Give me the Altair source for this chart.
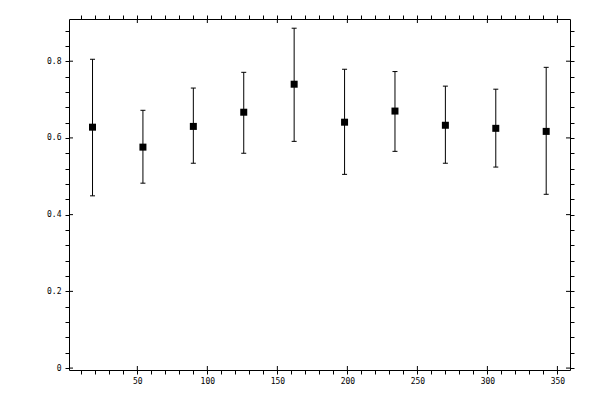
import altair as alt
import pandas as pd

# data
x_vals = [18, 54, 90, 126, 162, 198, 234, 270, 306, 342]
y_vals = [0.628, 0.576, 0.630, 0.667, 0.740, 0.641, 0.670, 0.633, 0.625, 0.617]
y_hi = [0.805, 0.672, 0.730, 0.771, 0.886, 0.779, 0.773, 0.735, 0.727, 0.784]
y_lo = [0.449, 0.482, 0.534, 0.560, 0.591, 0.505, 0.565, 0.534, 0.524, 0.453]

x_ticks = [10 * i for i in range(1, 36)]
x_major = [50, 100, 150, 200, 250, 300, 350]
y_ticks = [round(0.04 * i, 2) for i in range(0, 23)]
y_major = [0, 0.2, 0.4, 0.6, 0.8]

W, H = 501, 351
FONT = "DejaVu Sans Mono"

df = pd.DataFrame({"x": x_vals, "y": y_vals, "hi": y_hi, "lo": y_lo})
dfx = pd.DataFrame({"v": x_major})
dfy = pd.DataFrame({"v": y_major})

xs = alt.Scale(domain=[1.2, 359], nice=False, zero=False)
ys = alt.Scale(domain=[-0.005, 0.91], nice=False, zero=False)

ax_bottom = alt.Axis(orient="bottom", values=x_ticks, tickSize=4, title=None,
                     labelExpr="datum.value % 50 == 0 ? datum.label : ''",
                     format="d", labelFont=FONT, labelFontSize=8, labelPadding=3,
                     labelFlush=False, labelOverlap=False)
ax_left = alt.Axis(orient="left", values=y_ticks, tickSize=4, title=None,
                   labelExpr="abs(datum.value*5 - round(datum.value*5)) < 0.001 ? format(datum.value, '~g') : ''",
                   labelFont=FONT, labelFontSize=8, labelPadding=4,
                   labelFlush=False, labelOverlap=False)
ax_top = alt.Axis(orient="top", values=x_ticks, tickSize=4, title=None, labels=False)
ax_right = alt.Axis(orient="right", values=y_ticks, tickSize=4, title=None, labels=False)

bars = alt.Chart(df).mark_rule(color="black", strokeWidth=1).encode(
    x=alt.X("x:Q", scale=xs, axis=ax_bottom),
    y=alt.Y("lo:Q", scale=ys, axis=ax_left),
    y2="hi:Q",
)
cap_hi = alt.Chart(df).mark_rule(color="black", strokeWidth=1, xOffset=-2.5, x2Offset=2.5).encode(
    x=alt.X("x:Q", scale=xs, axis=None), x2="x:Q",
    y=alt.Y("hi:Q", scale=ys, axis=None),
)
cap_lo = alt.Chart(df).mark_rule(color="black", strokeWidth=1, xOffset=-2.5, x2Offset=2.5).encode(
    x=alt.X("x:Q", scale=xs, axis=None), x2="x:Q",
    y=alt.Y("lo:Q", scale=ys, axis=None),
)
pts = alt.Chart(df).mark_square(size=49, color="black", filled=True, opacity=1).encode(
    x=alt.X("x:Q", scale=xs, axis=ax_top),
    y=alt.Y("y:Q", scale=ys, axis=ax_right),
)

# inner halves of the major ticks
tb = alt.Chart(dfx).mark_rule(color="black", strokeWidth=1).encode(
    x=alt.X("v:Q", scale=xs, axis=None), y=alt.value(H - 4), y2=alt.value(H))
tt = alt.Chart(dfx).mark_rule(color="black", strokeWidth=1).encode(
    x=alt.X("v:Q", scale=xs, axis=None), y=alt.value(0), y2=alt.value(4))
tl = alt.Chart(dfy).mark_rule(color="black", strokeWidth=1).encode(
    y=alt.Y("v:Q", scale=ys, axis=None), x=alt.value(0), x2=alt.value(4))
tr = alt.Chart(dfy).mark_rule(color="black", strokeWidth=1).encode(
    y=alt.Y("v:Q", scale=ys, axis=None), x=alt.value(W - 4), x2=alt.value(W))

chart = alt.layer(bars, cap_hi, cap_lo, pts, tb, tt, tl, tr).resolve_axis(
    x="independent", y="independent"
).properties(
    width=W, height=H, autosize="none",
    padding={"left": 61, "top": 11, "right": 22, "bottom": 22},
    background="white",
).configure_view(stroke="black", strokeWidth=1).configure_axis(
    grid=False, domain=False, tickColor="black", tickWidth=1, labelColor="black"
)

chart.save("out.html", embed_options={"renderer": "svg", "actions": False})
